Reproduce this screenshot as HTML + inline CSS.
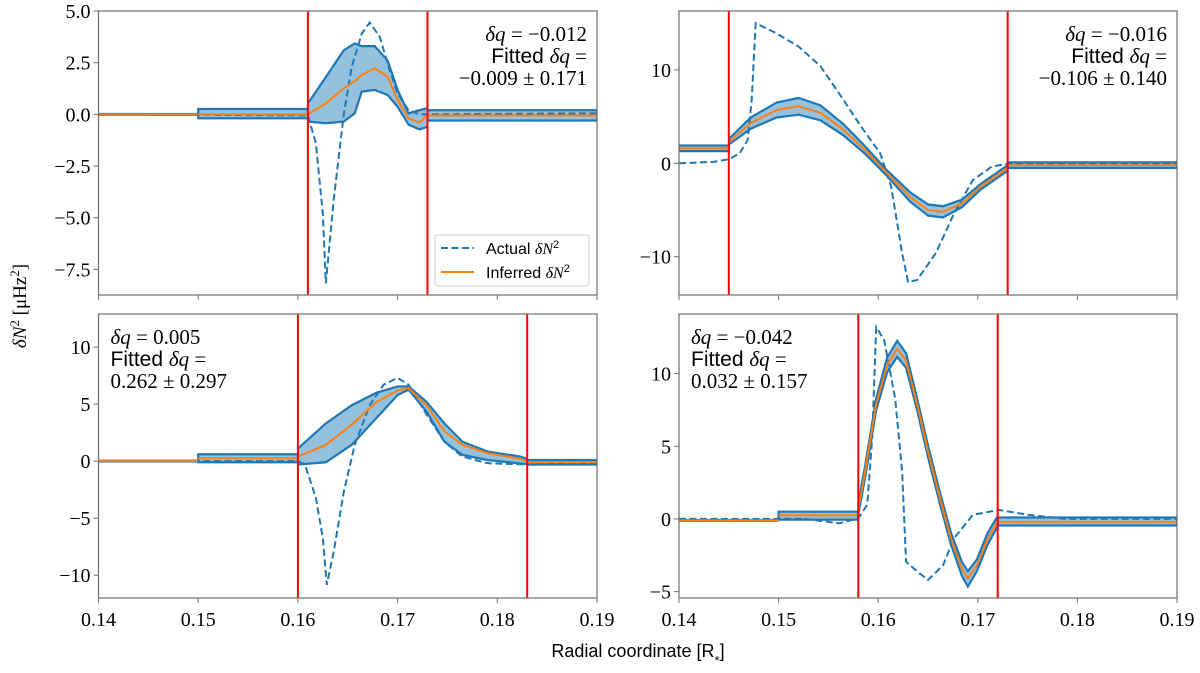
<!DOCTYPE html>
<html><head><meta charset="utf-8"><style>
body{margin:0;background:#fff}
svg{display:block}
.tk{font-family:"Liberation Serif",serif;font-size:20px;fill:#000}
.an{font-size:21px;fill:#000}
</style></head><body>
<svg id="fig" width="1200" height="673" viewBox="0 0 1200 673" xmlns="http://www.w3.org/2000/svg">
<text transform="translate(26,306) rotate(-90)" text-anchor="middle" font-family="Liberation Serif,serif" font-size="19"><tspan font-style="italic">δN</tspan><tspan baseline-shift="super" font-size="13">2</tspan> [μHz<tspan baseline-shift="super" font-size="13">2</tspan>]</text>
<text x="638" y="657" text-anchor="middle" font-family="Liberation Sans,sans-serif" font-size="18">Radial coordinate [R<tspan baseline-shift="sub" font-size="13">*</tspan>]</text>
</svg>
<script>
const xTicks=[0.14,0.15,0.16,0.17,0.18,0.19];
const xTickLabels=["0.14","0.15","0.16","0.17","0.18","0.19"];
// top-left
const tlActualX=[0.14,0.161,0.1618,0.1625,0.1628,0.1636,0.1646,0.1654,0.1664,0.1672,0.1682,0.1691,0.170,0.1711,0.1722,0.19];
const tlActualY=[0,-0.05,-1.4,-4.8,-8.18,-4.1,0,2.3,3.9,4.44,3.76,2.3,1.0,0.2,0.0,0.05];
const tlInfX=[0.161,0.1628,0.1646,0.1657,0.1664,0.1677,0.169,0.170,0.1711,0.1722,0.173];
const tlInfC=[0,0.53,1.26,1.6,1.9,2.23,1.82,0.7,-0.2,-0.4,-0.03];
const tlInfHi=[0.53,1.8,3.1,3.43,3.3,3.3,2.6,1.18,0.05,0.2,0.3];
const tlInfLo=[-0.35,-0.43,-0.35,0.05,1.1,1.18,0.94,0.37,-0.5,-0.73,-0.6];
const tlSegs=[[0.14,0.15,0,0,0],[0.15,0.161,0,-0.19,0.26],[0.173,0.19,-0.05,-0.3,0.2]];
const tlRed=[0.161,0.173];
const tlYTicks=[5,2.5,0,-2.5,-5,-7.5];
const tlYLabels=["5.0","2.5","0.0","−2.5","−5.0","−7.5"];
// top-right
const trActualX=[0.14,0.1435,0.145,0.1461,0.1469,0.1473,0.1477,0.1498,0.152,0.1542,0.1565,0.1583,0.1602,0.1613,0.1624,0.163,0.1639,0.1658,0.1676,0.1695,0.1714,0.1729,0.19];
const trActualY=[0,0.15,0.43,1.07,2.5,6.8,15,13.9,12.5,10.4,6.8,3.9,1.07,-2.5,-9.6,-12.7,-12.5,-9.6,-5.4,-1.8,-0.36,-0.07,-0.05];
const trInfX=[0.145,0.1472,0.1498,0.152,0.1542,0.1565,0.1587,0.1609,0.1632,0.165,0.1665,0.1684,0.1703,0.173];
const trInfC=[2.3,4.3,5.7,6.1,5.4,3.6,1.4,-1.07,-3.6,-5.0,-5.2,-4.3,-2.5,-0.5];
const trInfHi=[2.6,4.9,6.5,7.0,6.2,4.2,1.8,-0.77,-3.1,-4.4,-4.6,-3.9,-2.2,-0.2];
const trInfLo=[2.0,3.7,4.9,5.2,4.6,3.0,1.0,-1.37,-4.1,-5.6,-5.8,-4.7,-2.8,-0.8];
const trSegs=[[0.14,0.145,1.6,1.3,1.9],[0.173,0.19,-0.2,-0.5,0.1]];
const trRed=[0.145,0.173];
const trYTicks=[10,0,-10];
const trYLabels=["10","0","−10"];
// bottom-left
const blActualX=[0.14,0.16,0.1607,0.1618,0.1625,0.1629,0.1636,0.1646,0.1657,0.1672,0.1686,0.170,0.1711,0.1729,0.1747,0.1765,0.179,0.183,0.19];
const blActualY=[0,0,-0.3,-3.2,-6.75,-10.85,-7.9,-2.7,1.43,4.9,6.7,7.3,6.7,4.1,1.7,0.4,-0.18,-0.3,-0.1];
const blInfX=[0.16,0.1628,0.1654,0.1679,0.170,0.1711,0.1729,0.1747,0.1765,0.179,0.1823,0.183];
const blInfC=[0.4,1.43,3.2,5.2,6.2,6.4,4.9,2.6,1.43,0.7,0.2,0];
const blInfHi=[1.1,3.3,4.9,6.0,6.55,6.55,5.2,3.3,1.7,0.85,0.4,0.2];
const blInfLo=[-0.3,-0.1,1.43,3.8,5.8,6.26,4.36,1.7,0.55,0.1,-0.2,-0.26];
const blSegs=[[0.14,0.15,0,0,0],[0.15,0.16,0.25,-0.1,0.6],[0.183,0.19,-0.1,-0.3,0.1]];
const blRed=[0.16,0.183];
const blYTicks=[10,5,0,-5,-10];
const blYLabels=["10","5","0","−5","−10"];
// bottom-right
const brActualX=[0.14,0.1527,0.1561,0.158,0.1589,0.1594,0.1598,0.1606,0.1617,0.1624,0.1628,0.1639,0.165,0.1665,0.1676,0.1695,0.1721,0.1751,0.1788,0.19];
const brActualY=[0,0,-0.3,0.05,0.97,5.6,13.2,12.3,8.3,3.3,-2.95,-3.6,-4.2,-3.2,-1.34,0.28,0.62,0.28,0,0];
const brInfX=[0.158,0.1587,0.1598,0.1609,0.1619,0.1628,0.1639,0.165,0.1662,0.1673,0.1684,0.169,0.1699,0.171,0.172];
const brInfC=[0.7,3.3,7.9,10.6,11.7,10.9,7.9,4.65,1.43,-1.34,-3.4,-4.1,-3.2,-1.34,-0.18];
const brInfHi=[1.1,3.7,8.3,11.1,12.25,11.4,8.3,5.05,1.83,-0.94,-2.95,-3.6,-2.8,-0.94,0.2];
const brInfLo=[0.3,2.9,7.5,10.1,11.15,10.4,7.5,4.25,1.03,-1.74,-3.9,-4.65,-3.6,-1.74,-0.5];
const brSegs=[[0.14,0.15,-0.1,-0.1,-0.1],[0.15,0.158,0.25,-0.05,0.5],[0.172,0.19,-0.2,-0.45,0.1]];
const brRed=[0.158,0.172];
const brYTicks=[10,5,0,-5];
const brYLabels=["10","5","0","−5"];

const NS="http://www.w3.org/2000/svg";
const svg=document.getElementById('fig');
function mk(tag,attrs,parent){const e=document.createElementNS(NS,tag);for(const k in attrs)e.setAttribute(k,attrs[k]);(parent||svg).appendChild(e);return e;}
const BLUE="#1f77b4",FILL="#94c1de",ORANGE="#ff7f0e";

function panel(id,L,R,T,B,ymin,ymax,aX,aY,iX,iC,iHi,iLo,segs,red,yt,yl,showX,ann,annRight){
  const sx=v=>L+(v-0.14)/0.05*(R-L);
  const sy=v=>T+(ymax-v)/(ymax-ymin)*(B-T);
  const g=mk('g',{});
  
  
  const cp=mk('clipPath',{id:'c'+id},g);mk('rect',{x:L,y:T,width:R-L,height:B-T},cp);
  const pg=mk('g',{'clip-path':'url(#c'+id+')'},g);
  segs.forEach((s,k)=>{
    if(s[4]>s[3]){const r=mk('rect',{x:sx(s[0]),y:sy(s[4]),width:sx(s[1])-sx(s[0]),height:sy(s[3])-sy(s[4]),fill:FILL,stroke:BLUE,'stroke-width':2.2},pg);
      
      }
    else{const l=mk('line',{x1:sx(s[0]),x2:sx(s[1]),y1:sy(s[2]),y2:sy(s[2]),stroke:BLUE,'stroke-width':3},pg);
      
      }
  });
  let pts=iX.map((x,i)=>sx(x)+','+sy(iHi[i]));
  for(let i=iX.length-1;i>=0;i--)pts.push(sx(iX[i])+','+sy(iLo[i]));
  const band=mk('polygon',{points:pts.join(' '),fill:FILL,stroke:'none'},pg);
  
  
  [iHi,iLo].forEach((arr,k)=>{const p=mk('polyline',{points:iX.map((x,i)=>sx(x)+','+sy(arr[i])).join(' '),fill:'none',stroke:BLUE,'stroke-width':2.2},pg);
    
    });
  const act=mk('polyline',{points:aX.map((x,i)=>sx(x)+','+sy(aY[i])).join(' '),fill:'none',stroke:BLUE,'stroke-width':2,'stroke-dasharray':'7,3.5'},pg);
  
  
  segs.forEach((s,k)=>{const l=mk('line',{x1:sx(s[0]),x2:sx(s[1]),y1:sy(s[2]),y2:sy(s[2]),stroke:ORANGE,'stroke-width':2},pg);
    
    });
  const inf=mk('polyline',{points:iX.map((x,i)=>sx(x)+','+sy(iC[i])).join(' '),fill:'none',stroke:ORANGE,'stroke-width':2},pg);
  
  
  red.forEach((r,k)=>{const l=mk('line',{x1:sx(r),x2:sx(r),y1:T,y2:B,stroke:'#ff0000','stroke-width':2},pg);
    
    });
  const fr=mk('rect',{x:L,y:T,width:R-L,height:B-T,fill:'none',stroke:'#6f6f6f','stroke-width':1.2},g);
  
  
  xTicks.forEach((v,i)=>{mk('line',{x1:sx(v),x2:sx(v),y1:B,y2:B+5,stroke:'#6f6f6f'},g);
    if(showX){const t=mk('text',{x:sx(v),y:B+28,'text-anchor':'middle',class:'tk'},g);t.textContent=xTickLabels[i];
      
      }});
  yt.forEach((v,i)=>{mk('line',{x1:L-5,x2:L,y1:sy(v),y2:sy(v),stroke:'#6f6f6f'},g);
    const t=mk('text',{x:L-8,y:sy(v)+7,'text-anchor':'end',class:'tk'},g);t.textContent=yl[i];
    
    });
  const ax=annRight?R-10:L+12;const anc=annRight?'end':'start';
  const a=mk('g',{},g);
  
  
  a.innerHTML='<text class="an" x="'+ax+'" y="'+(T+30)+'" text-anchor="'+anc+'" font-family="Liberation Serif,serif"><tspan font-style="italic">δq</tspan> = '+ann[0]+'</text>'+
   '<text class="an" x="'+ax+'" y="'+(T+52)+'" text-anchor="'+anc+'"><tspan font-family="Liberation Sans,sans-serif">Fitted </tspan><tspan font-family="Liberation Serif,serif" font-style="italic">δq</tspan><tspan font-family="Liberation Serif,serif"> =</tspan></text>'+
   '<text class="an" x="'+ax+'" y="'+(T+74)+'" text-anchor="'+anc+'" font-family="Liberation Serif,serif">'+ann[1]+'</text>';
  return g;
}
panel('top-left',98.5,597,11,295,-8.74,5.0,tlActualX,tlActualY,tlInfX,tlInfC,tlInfHi,tlInfLo,tlSegs,tlRed,tlYTicks,tlYLabels,false,['−0.012','−0.009 ± 0.171'],true);
panel('top-right',679,1177,11,295,-14.1,16.3,trActualX,trActualY,trInfX,trInfC,trInfHi,trInfLo,trSegs,trRed,trYTicks,trYLabels,false,['−0.016','−0.106 ± 0.140'],true);
panel('bottom-left',98.5,597,314,598,-12.0,12.9,blActualX,blActualY,blInfX,blInfC,blInfHi,blInfLo,blSegs,blRed,blYTicks,blYLabels,true,['0.005','0.262 ± 0.297'],false);
panel('bottom-right',679,1177,314,598,-5.44,14.1,brActualX,brActualY,brInfX,brInfC,brInfHi,brInfLo,brSegs,brRed,brYTicks,brYLabels,true,['−0.042','0.032 ± 0.157'],false);
const lg=mk('g',{});


lg.innerHTML='<rect x="435" y="235" width="154" height="51" rx="3" fill="#fff" stroke="#ccc"/>'+
 '<line x1="441" x2="474" y1="248" y2="248" stroke="'+BLUE+'" stroke-width="2" stroke-dasharray="7,3.5"/>'+
 '<text x="486" y="254" font-family="Liberation Sans,sans-serif" font-size="16">Actual <tspan font-family="Liberation Serif,serif" font-style="italic">δN</tspan><tspan font-size="11" baseline-shift="super">2</tspan></text>'+
 '<line x1="441" x2="474" y1="272" y2="272" stroke="'+ORANGE+'" stroke-width="2"/>'+
 '<text x="486" y="278" font-family="Liberation Sans,sans-serif" font-size="16">Inferred <tspan font-family="Liberation Serif,serif" font-style="italic">δN</tspan><tspan font-size="11" baseline-shift="super">2</tspan></text>';
</script>
</body></html>
